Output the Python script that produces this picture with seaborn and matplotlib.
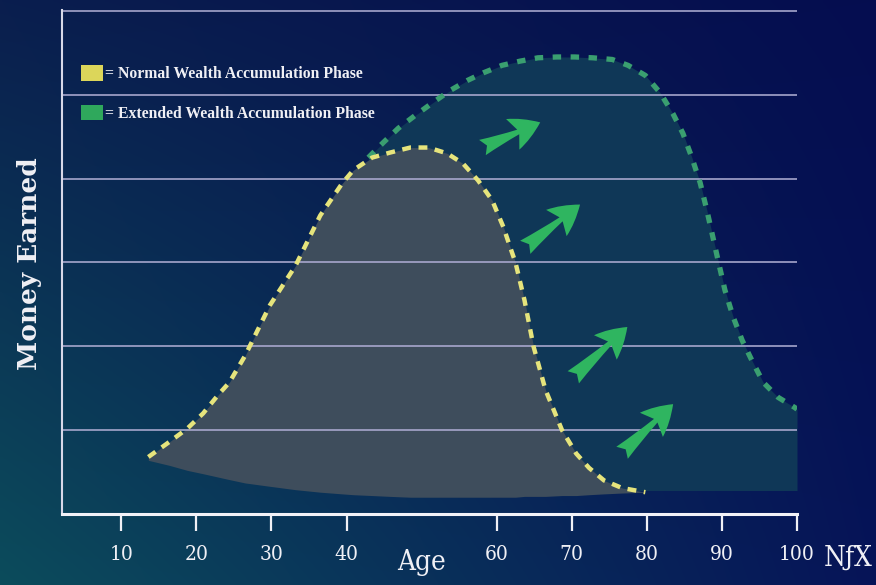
import numpy as np
import matplotlib
matplotlib.use("Agg")
import matplotlib.pyplot as plt
import seaborn as sns
from matplotlib.patches import Patch

# ---------------- data ----------------
x_ticks = [10, 20, 30, 40, 60, 70, 80, 90, 100]
x_tick_labels = ["10", "20", "30", "40", "60", "70", "80", "90", "100"]
grid_levels = [1, 2, 3, 4, 5, 6]

yellow_age = [13.6, 16.4, 18.8, 20.9, 22.9, 24.4, 26.5, 29.8, 33.2, 36.5, 39.4, 40.9,
              43.4, 45.8, 48.5, 50.9, 53.4, 55.5, 57.5, 59.4, 60.9, 61.8, 62.5, 63.7,
              64.9, 66.5, 68.7, 70.6, 72.3, 74.3, 76.7, 79.8]
yellow_val = [0.68, 0.86, 1.02, 1.20, 1.42, 1.57, 1.89, 2.49, 2.96, 3.56, 3.94, 4.10,
              4.25, 4.31, 4.37, 4.37, 4.30, 4.18, 3.98, 3.74, 3.42, 3.18, 3.00, 2.55,
              2.00, 1.48, 1.00, 0.72, 0.55, 0.40, 0.31, 0.26]
yellow_floor = [0.64, 0.58, 0.52, 0.48, 0.44, 0.41, 0.37, 0.33, 0.29, 0.26, 0.24, 0.23,
                0.22, 0.21, 0.20, 0.20, 0.20, 0.20, 0.20, 0.20, 0.20, 0.20, 0.20, 0.21,
                0.21, 0.21, 0.22, 0.22, 0.23, 0.24, 0.25, 0.26]

green_age = [42.9, 44.9, 46.9, 49.1, 51.4, 53.8, 56.1, 58.2, 60.7, 63.1, 65.5, 68.0,
             70.4, 72.8, 75.4, 77.5, 79.8, 81.8, 83.5, 84.8, 86.0, 87.1, 88.0, 88.8,
             89.5, 90.4, 91.5, 92.7, 94.0, 95.5, 97.5, 99.7, 100.0]
green_val = [4.25, 4.43, 4.60, 4.75, 4.90, 5.05, 5.17, 5.26, 5.35, 5.40, 5.44, 5.45,
             5.45, 5.44, 5.42, 5.35, 5.23, 5.02, 4.77, 4.54, 4.25, 3.95, 3.62, 3.30,
             3.02, 2.67, 2.35, 2.07, 1.83, 1.57, 1.39, 1.27, 1.25]
green_floor = 0.28

arrow_tail_age = [58.1, 63.8, 70.2, 76.7]
arrow_tail_val = [4.37, 3.18, 1.63, 0.73]
arrow_head_age = [65.8, 71.1, 77.4, 83.5]
arrow_head_val = [4.67, 3.69, 2.23, 1.31]

legend_labels = ["= Normal Wealth Accumulation Phase",
                 "= Extended Wealth Accumulation Phase"]

# ---------------- style ----------------
sns.set_theme(style="white")
plt.rcParams['font.family'] = ['DejaVu Serif', 'DejaVu Sans']

YELLOW_LINE = "#e6e47c"
YELLOW_FILL = "#3e4d5c"
YELLOW_KEY = "#dcd65a"
GREEN_LINE = "#3a9f70"
GREEN_FILL = "#0f3757"
GREEN_KEY = "#2fa85c"
ARROW = "#2fb560"
GRID = "#a9a9cf"
TEXT = "#f0f0f5"

W, H = 876, 585
fig = plt.figure(figsize=(W / 100, H / 100), dpi=100)

# gradient background (teal bottom-left -> deep navy right)
bg = fig.add_axes([0, 0, 1, 1], zorder=-10)
gx = np.linspace(0, 1, 200)[None, :]
gy = np.linspace(0, 1, 200)[:, None]  # 0 = top
tl = np.array([10, 30, 78]) / 255
tr = np.array([5, 13, 80]) / 255
bl = np.array([12, 76, 92]) / 255
br = np.array([6, 20, 88]) / 255
img = ((1 - gx)[..., None] * (1 - gy)[..., None] * tl + gx[..., None] * (1 - gy)[..., None] * tr
       + (1 - gx)[..., None] * gy[..., None] * bl + gx[..., None] * gy[..., None] * br)
bg.imshow(img, extent=[0, 1, 0, 1], aspect='auto', origin='upper', interpolation='bilinear')
bg.set_axis_off()

ax = fig.add_axes([62 / W, 1 - 514 / H, (797 - 62) / W, (514 - 10) / H])
ax.set_facecolor('none')

# fills
ax.fill_between(green_age, green_val, green_floor, color=GREEN_FILL, lw=0, zorder=0.2)
ax.fill_between(yellow_age, yellow_val, yellow_floor, color=YELLOW_FILL, lw=0, zorder=0.3)

# grid lines above fills
ax.set_yticks(grid_levels)
ax.yaxis.grid(True, color=GRID, lw=1.3, alpha=0.9)
ax.xaxis.grid(False)
ax.set_axisbelow(True)
ax.yaxis.set_zorder(0.5)

# dashed curves
sns.lineplot(x=green_age, y=green_val, ax=ax, color=GREEN_LINE, lw=3.8,
             linestyle=(0, (1.6, 1.8)), zorder=2, dash_capstyle='butt', sort=False)
sns.lineplot(x=yellow_age, y=yellow_val, ax=ax, color=YELLOW_LINE, lw=3.2,
             linestyle=(0, (2.0, 1.7)), zorder=3, dash_capstyle='butt', sort=False)

# arrows
for ta, tv, ha, hv in zip(arrow_tail_age, arrow_tail_val, arrow_head_age, arrow_head_val):
    ax.annotate("", xy=(ha, hv), xytext=(ta, tv), xycoords='data', textcoords='data',
                arrowprops=dict(arrowstyle="fancy,head_length=0.9,head_width=1.0,tail_width=0.5",
                                color=ARROW, lw=0, shrinkA=0, shrinkB=0, mutation_scale=24),
                zorder=5)

ax.set_xlim(2.1, 100)
ax.set_ylim(0, 6.01)

# axes styling
for s in ['top', 'right']:
    ax.spines[s].set_visible(False)
ax.spines['left'].set_color("#d8d8e8")
ax.spines['left'].set_linewidth(1.5)
ax.spines['bottom'].set_color("#f2f2f8")
ax.spines['bottom'].set_linewidth(2.2)
ax.spines['left'].set_zorder(6)
ax.spines['bottom'].set_zorder(6)

ax.set_xticks(x_ticks)
ax.set_xticklabels(x_tick_labels)
ax.tick_params(axis='x', direction='out', length=12, width=1.6, colors=TEXT,
               labelsize=15, pad=10, bottom=True)
for lbl in ax.get_xticklabels():
    lbl.set_fontfamily('DejaVu Serif')
    lbl.set_fontstretch('condensed')
ax.tick_params(axis='y', length=0, labelleft=False)
ax.set_xlabel("")
ax.set_ylabel("")

# "Age" label in place of 50
ax.text(50, -0.58, "Age", transform=ax.transData, ha='center', va='center',
        fontsize=20, color=TEXT, family='DejaVu Serif', fontstretch='condensed', clip_on=False)

# y label
fig.text(30 / W, 1 - 264 / H, "Money Earned", rotation=90, ha='center', va='center',
         fontsize=19, fontweight='bold', color=TEXT, family='DejaVu Serif')

# logo
fig.text(848 / W, 1 - 558 / H, "NƒX", ha='center', va='center', fontsize=20,
         color=TEXT, family='DejaVu Serif', fontstretch='condensed')

# legend
handles = [Patch(facecolor=YELLOW_KEY, edgecolor='none'),
           Patch(facecolor=GREEN_KEY, edgecolor='none')]
leg = fig.legend(handles, legend_labels, loc='upper left',
                 bbox_to_anchor=(81 / W, 1 - 65 / H), bbox_transform=fig.transFigure,
                 frameon=False, fontsize=11.3, handlelength=1.4, handleheight=1.15,
                 handletextpad=0.15, labelspacing=1.45, borderpad=0, borderaxespad=0)
for t in leg.get_texts():
    t.set_color(TEXT)
    t.set_fontfamily(['Liberation Serif', 'DejaVu Serif'])
    t.set_fontweight('bold')

fig.savefig("out.png", dpi=100)
